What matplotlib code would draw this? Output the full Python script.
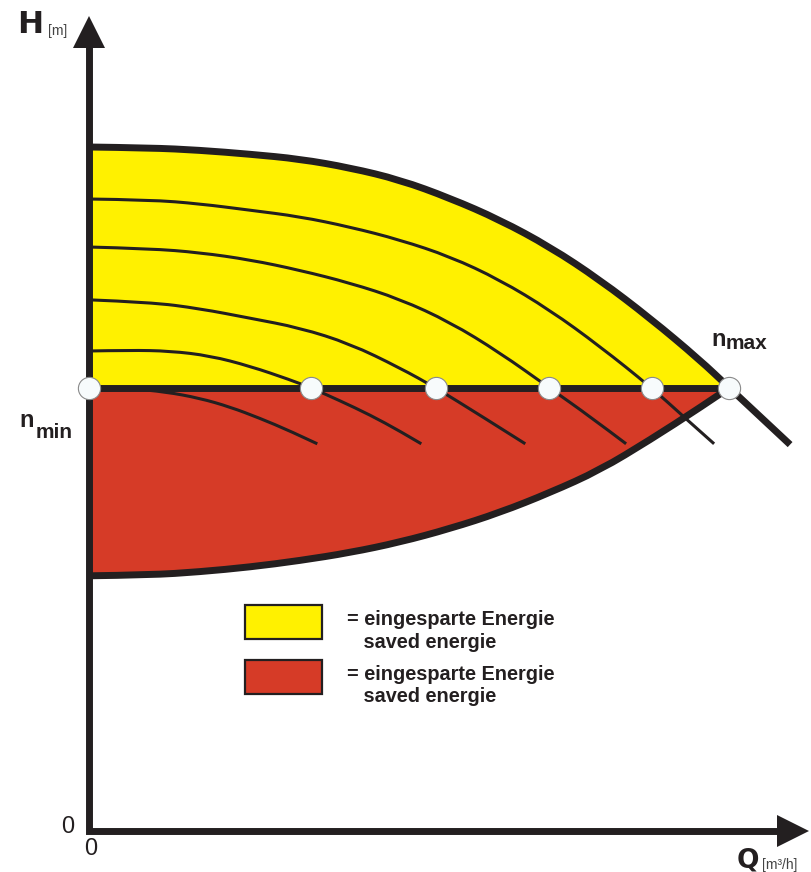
import matplotlib
matplotlib.use("Agg")
import matplotlib.pyplot as plt
from matplotlib.patches import Patch, PathPatch
from matplotlib.path import Path
from matplotlib.transforms import Affine2D

# ---- pump characteristic data (chart units, origin at axis corner) ----
# maximum-speed curve n_max
q_nmax = [0.00, 0.77, 1.39, 2.02, 2.64, 3.27, 3.89, 4.52, 5.14, 5.77, 6.39, 7.02, 7.64, 8.01, 8.77]
h_nmax = [8.55, 8.54, 8.51, 8.46, 8.40, 8.29, 8.14, 7.91, 7.64, 7.30, 6.89, 6.41, 5.89, 5.54, 4.83]

# lower boundary of the second saving area
q_low = [0.00, 0.77, 1.39, 2.02, 2.64, 3.27, 3.89, 4.52, 5.14, 5.77, 6.39, 7.02, 7.64, 8.01]
h_low = [3.19, 3.20, 3.24, 3.30, 3.38, 3.48, 3.61, 3.78, 3.98, 4.23, 4.51, 4.89, 5.29, 5.54]

# constant-head operating line
h_work = 5.54
q_work_end = 8.01

# intermediate speed curves (lowest = n_min)
q_nmin = [0.00, 0.52, 0.96, 1.39, 1.77, 2.14, 2.52, 2.86]
h_nmin = [5.54, 5.53, 5.49, 5.41, 5.30, 5.16, 5.00, 4.84]

q_n2 = [0.00, 0.52, 1.02, 1.52, 2.02, 2.52, 2.78, 3.14, 3.52, 3.89, 4.16]
h_n2 = [6.00, 6.01, 6.00, 5.94, 5.81, 5.64, 5.54, 5.38, 5.20, 5.00, 4.84]

q_n3 = [0.00, 0.77, 1.39, 2.02, 2.64, 3.27, 3.89, 4.34, 4.89, 5.46]
h_n3 = [6.64, 6.61, 6.53, 6.41, 6.29, 6.09, 5.79, 5.54, 5.20, 4.84]

q_n4 = [0.00, 0.77, 1.39, 2.02, 2.64, 3.27, 3.89, 4.52, 5.14, 5.76, 6.27, 6.72]
h_n4 = [7.30, 7.28, 7.23, 7.14, 7.01, 6.85, 6.65, 6.36, 5.98, 5.54, 5.18, 4.84]

q_n5 = [0.00, 0.77, 1.39, 2.02, 2.64, 3.27, 3.89, 4.52, 5.14, 5.77, 6.39, 7.04, 7.46, 7.82]
h_n5 = [7.90, 7.89, 7.84, 7.76, 7.68, 7.55, 7.39, 7.18, 6.89, 6.51, 6.06, 5.54, 5.16, 4.84]

# operating points on the constant-head line
q_points = [0.00, 2.78, 4.34, 5.76, 7.04, 8.01]

# axis extents
q_axis_end = 8.81
h_axis_end = 9.99

legend_labels = ["= eingesparte Energie\n   saved energie",
                 "= eingesparte Energie\n   saved energie"]

YELLOW = "#FFF100"
RED = "#D63B27"
INK = "#231F20"


def smooth_path(qs, hs):
    """Quadratic Bezier chain through the given points (control = point,
    anchors = midpoints), so the curve is drawn without corners."""
    verts = [(qs[0], hs[0])]
    codes = [Path.MOVETO]
    for i in range(1, len(qs) - 1):
        verts += [(qs[i], hs[i]), ((qs[i] + qs[i + 1]) / 2, (hs[i] + hs[i + 1]) / 2)]
        codes += [Path.CURVE3, Path.CURVE3]
    if len(qs) > 2:
        verts[-1] = (qs[-1], hs[-1])
    else:
        verts.append((qs[-1], hs[-1]))
        codes.append(Path.LINETO)
    return verts, codes


def draw_curve(ax, qs, hs, lw, z):
    v, c = smooth_path(qs, hs)
    ax.add_patch(PathPatch(Path(v, c), fill=False, edgecolor=INK, lw=lw,
                           capstyle="butt", joinstyle="round", zorder=z))


def fill_area(ax, qs, hs, color):
    v, c = smooth_path(qs, hs)
    v = v + [(0, h_work), (0, h_work)]
    c = c + [Path.LINETO, Path.CLOSEPOLY]
    ax.add_patch(PathPatch(Path(v, c), facecolor=color, edgecolor="none", lw=0, zorder=1))


fig = plt.figure(figsize=(8.11, 8.72), dpi=100)
ax = fig.add_axes([0, 0, 1, 1])
ax.set_xlim(-1.10625, 9.03125)
ax.set_ylim(-0.5125, 10.3875)
ax.axis("off")

# saving areas
fill_area(ax, q_nmax[:14], h_nmax[:14], YELLOW)
fill_area(ax, q_low, h_low, RED)

# thin speed curves
for qs, hs in [(q_nmin, h_nmin), (q_n2, h_n2), (q_n3, h_n3), (q_n4, h_n4), (q_n5, h_n5)]:
    draw_curve(ax, qs, hs, 2.2, 2)

# thick curves
draw_curve(ax, q_nmax, h_nmax, 5.0, 3)
draw_curve(ax, q_low, h_low, 5.0, 3)
ax.plot([0, q_work_end], [h_work, h_work], color=INK, lw=5.0, solid_capstyle="butt", zorder=3)

# axes with arrow heads
ax.plot([0, 0, q_axis_end], [h_axis_end, 0, 0], color=INK, lw=5.0,
        solid_joinstyle="miter", solid_capstyle="butt", zorder=3)
ax.plot([0], [h_axis_end], marker="^", ms=23, color=INK, mew=0, zorder=4)
ax.plot([q_axis_end], [0], marker=">", ms=23, color=INK, mew=0, zorder=4)

# operating points
ax.plot(q_points, [h_work] * len(q_points), ls="none", marker="o", ms=16,
        mfc="#F7FBFC", mec="#8A8A8A", mew=0.8, zorder=5)

# labels
ax.text(-0.89, 9.98, "H", family="DejaVu Sans", weight="bold", fontsize=22.5,
        color=INK, ha="left", va="baseline")
ax.text(-0.51, 9.95, "[m]", family="Liberation Sans", fontsize=10,
        color="#444444", ha="left", va="baseline")
ax.text(8.10, -0.45, "Q", family="DejaVu Sans", weight="bold", fontsize=19,
        color=INK, ha="left", va="baseline")
ax.text(8.42, -0.48, "[m³/h]", family="Liberation Sans", fontsize=10,
        color="#444444", ha="left", va="baseline")

ax.text(7.79, 6.06, "n", family="Liberation Sans", weight="bold", fontsize=17,
        color=INK, ha="left", va="baseline")
ax.text(7.96, 6.03, "max", family="Liberation Sans", weight="bold", fontsize=15,
        color=INK, ha="left", va="baseline")
ax.text(-0.86, 5.05, "n", family="Liberation Sans", weight="bold", fontsize=17,
        color=INK, ha="left", va="baseline")
ax.text(-0.66, 4.91, "min", family="Liberation Sans", weight="bold", fontsize=15,
        color=INK, ha="left", va="baseline")

ax.text(-0.26, -0.03, "0", family="Liberation Sans", fontsize=17,
        color=INK, ha="center", va="baseline")
ax.text(0.03, -0.30, "0", family="Liberation Sans", fontsize=17,
        color=INK, ha="center", va="baseline")

# legend
handles = [Patch(facecolor=YELLOW, edgecolor=INK, linewidth=1.6),
           Patch(facecolor=RED, edgecolor=INK, linewidth=1.6)]
leg = ax.legend(handles, legend_labels, loc="upper left",
                bbox_to_anchor=(245 / 811, 1 - 600 / 872), bbox_transform=fig.transFigure,
                frameon=False, borderpad=0, borderaxespad=0,
                handlelength=3.87, handleheight=2.28, handletextpad=1.25,
                labelspacing=0.65,
                prop={"family": "Liberation Sans", "weight": "bold", "size": 14.3})
for t in leg.get_texts():
    t.set_color(INK)
    t.set_linespacing(1.25)
    # drop the label text slightly below the swatch top
    t.set_transform(t.get_transform() + Affine2D().translate(0, -10))

fig.savefig("out.png", dpi=100)
